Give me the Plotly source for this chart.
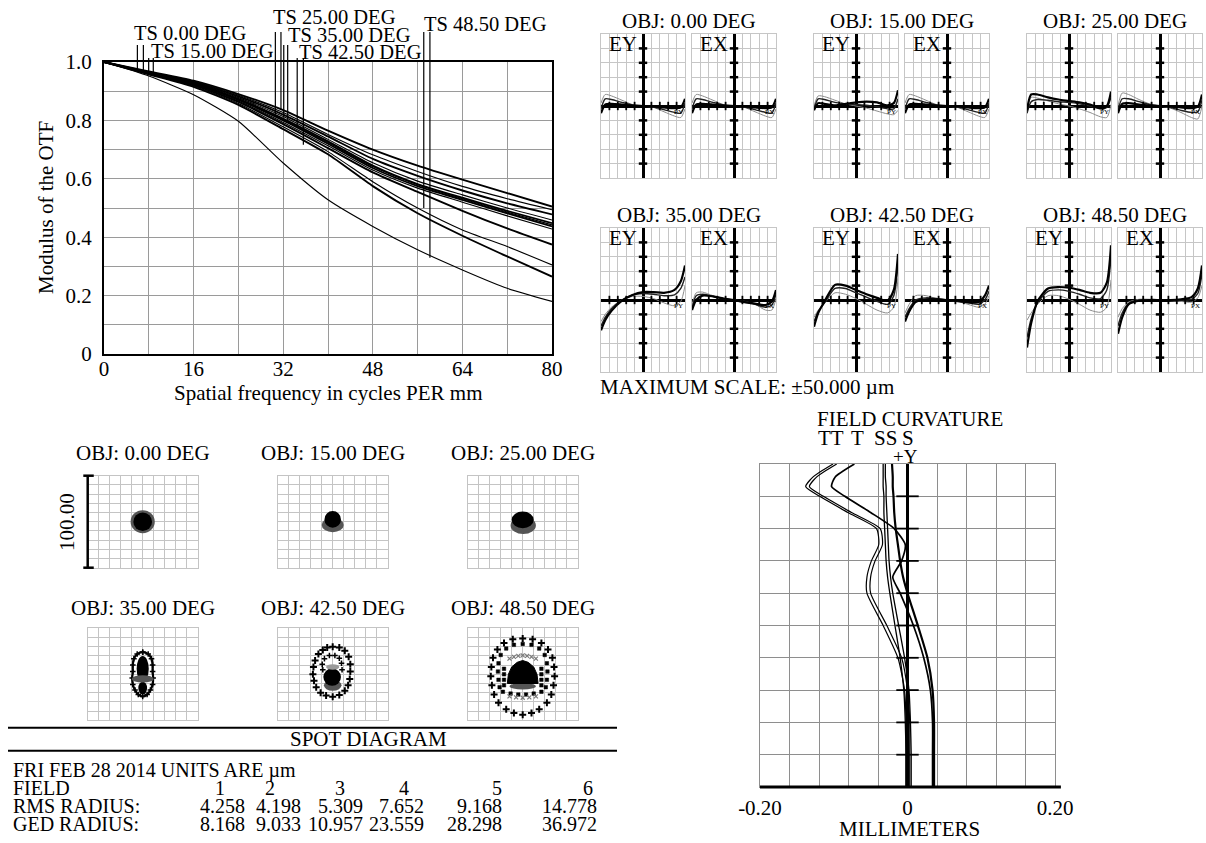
import numpy as np
import plotly.graph_objects as go

W, H = 1206, 843
SERIF = "Liberation Serif"

# ---------------- MTF data ----------------
MTF_FREQ = [0, 8, 16, 24, 32, 40, 48, 56, 64, 72, 80]
MTF_00_T = [1, 0.968, 0.936, 0.890, 0.835, 0.765, 0.700, 0.645, 0.597, 0.551, 0.505]
MTF_00_S = [1, 0.966, 0.933, 0.886, 0.827, 0.752, 0.682, 0.625, 0.574, 0.532, 0.494]
MTF_15_T = [1, 0.965, 0.931, 0.882, 0.820, 0.745, 0.668, 0.610, 0.560, 0.516, 0.478]
MTF_15_S = [1, 0.964, 0.929, 0.878, 0.813, 0.735, 0.655, 0.592, 0.545, 0.500, 0.459]
MTF_25_T = [1, 0.963, 0.927, 0.874, 0.806, 0.728, 0.645, 0.582, 0.535, 0.490, 0.448]
MTF_25_S = [1, 0.962, 0.926, 0.872, 0.803, 0.724, 0.642, 0.580, 0.532, 0.486, 0.442]
MTF_35_T = [1, 0.962, 0.925, 0.870, 0.800, 0.720, 0.637, 0.575, 0.528, 0.482, 0.437]
MTF_35_S = [1, 0.961, 0.923, 0.866, 0.793, 0.713, 0.630, 0.568, 0.520, 0.473, 0.428]
MTF_42_S = [1, 0.960, 0.921, 0.863, 0.787, 0.705, 0.622, 0.555, 0.490, 0.430, 0.375]
MTF_42_T = [1, 0.959, 0.918, 0.858, 0.778, 0.693, 0.590, 0.500, 0.425, 0.368, 0.305]
MTF_48_S = [1, 0.958, 0.915, 0.853, 0.770, 0.684, 0.575, 0.482, 0.405, 0.334, 0.265]
MTF_48_T = [1, 0.952, 0.888, 0.797, 0.654, 0.528, 0.437, 0.357, 0.288, 0.225, 0.180]
MTF_CURVES = [MTF_00_T, MTF_00_S, MTF_15_T, MTF_15_S, MTF_25_T, MTF_25_S,
              MTF_35_T, MTF_35_S, MTF_42_S, MTF_42_T, MTF_48_S, MTF_48_T]

MTF_MARK_LABELS = ["TS 0.00 DEG", "TS 15.00 DEG", "TS 25.00 DEG",
                   "TS 35.00 DEG", "TS 42.50 DEG", "TS 48.50 DEG"]
MTF_MARK_FREQ = [[5.96, 7.03], [7.98, 8.8], [30.6, 31.6],
                 [32.1, 32.8], [34.5, 35.6], [57.1, 58.2]]
MTF_MARK_END = [[0.972, 0.968], [0.962, 0.958], [0.82, 0.837],
                [0.81, 0.80], [0.78, 0.717], [0.50, 0.33]]
MTF_X_TICKS = ["0", "", "16", "", "32", "", "48", "", "64", "", "80"]
MTF_Y_TICKS = ["0", "", "0.2", "", "0.4", "", "0.6", "", "0.8", "", "1.0"]

# ---------------- Ray fan data (µm vs normalized pupil) ----------------
FAN_PUPIL = [-1, -0.9, -0.75, -0.5, -0.25, 0, 0.25, 0.5, 0.75, 0.9, 1]
FAN_TITLES = ["OBJ: 0.00 DEG", "OBJ: 15.00 DEG", "OBJ: 25.00 DEG",
              "OBJ: 35.00 DEG", "OBJ: 42.50 DEG", "OBJ: 48.50 DEG"]
# each fan: [thick, medium, thin] wavelength curves
FAN_00_EY = [[-5, 1, 1.5, 1, 0.3, 0, -0.3, -1, -1.5, -1, 5],
             [-2, 5, 4.5, 2.5, 0.7, 0, -0.7, -2.5, -4.5, -5, 2],
             [2, 8, 7, 4, 1, 0, -1, -4, -7, -8, -2]]
FAN_00_EX = [[-5, 1, 1.5, 1, 0.3, 0, -0.3, -1, -1.5, -1, 5],
             [-2, 5, 4.5, 2.5, 0.7, 0, -0.7, -2.5, -4.5, -5, 2],
             [2, 8, 7, 4, 1, 0, -1, -4, -7, -8, -2]]
FAN_15_EY = [[-3, 2, 1.5, 0.5, 1.5, 2.5, 3, 2.5, 0.5, 2, 11],
             [-2, 5, 4.5, 2.5, 1.5, 1, 0.5, -0.5, -2, -2, 5],
             [0, 7, 6.5, 4, 1.5, 0, -1.5, -3.5, -5.5, -6, -3]]
FAN_15_EX = [[-5, 1, 1.5, 1, 0.3, 0, -0.3, -1, -1.5, -1, 5],
             [-2, 5, 4.5, 2.5, 0.7, 0, -0.7, -2.5, -4.5, -5, 2],
             [2, 8, 7, 4, 1, 0, -1, -4, -7, -8, -2]]
FAN_25_EY = [[-3, 8, 8, 6, 4.5, 3.5, 2.5, 1, -1.5, 0, 10],
             [-5, 3, 4.5, 4, 3, 2.5, 1.5, 0, -2, -1, 6],
             [-2, 6, 5.5, 3.5, 1.5, 0, -2, -4.5, -7.5, -8, 1]]
FAN_25_EX = [[-5, 1.5, 2, 1, 0.3, 0, -0.3, -1, -1.5, -0.5, 8],
             [-3, 5, 5, 3, 1, 0, -1, -3, -4.5, -4, 4],
             [0, 9, 8, 4.5, 1.5, 0, -1.5, -4.5, -8, -9, 0]]
FAN_35_EY = [[-21, -14, -7.5, -0.5, 3.5, 5.5, 5.5, 5, 7, 13, 24],
             [-18, -12, -6, 0, 3.5, 4.5, 4, 3, 3.5, 8, 16],
             [-15, -10, -5, 0, 2.5, 2.5, 1, -2, -4, -1, 10]]
FAN_35_EX = [[-7, 0, 3, 2.5, 1, 0, -1.5, -2.5, -3.5, -1, 7],
             [-6, 3, 4, 2.5, 1, 0, -1, -3, -5, -3.5, 4],
             [-4, 5, 5.5, 3, 1, 0, -1, -3, -7, -7, 1]]
FAN_42_EY = [[-18.5, -9, -1, 10.5, 10, 7, 4, 1.5, -0.5, 7, 32],
             [-15, -8, -2, 8, 8, 5, 2, -1, -3, 3, 25],
             [-12, -7, -2, 5, 4, 1, -3, -7, -9, -5, 15]]
FAN_42_EX = [[-15, -8, -1.5, 0.5, 0.5, 0, -0.5, -1.5, -1.5, 3, 10],
             [-12, -6, 0, 1.5, 1, 0, -1, -2, -3, 0, 6],
             [-9, -3, 3, 3, 1, 0, -1, -3, -5, -3, 3]]
FAN_48_EY = [[-33, -16, -1, 8, 9, 8.5, 7, 5, 5, 12, 38],
             [-26, -13, -2, 6, 7, 6, 4, 1.5, 1, 7, 30],
             [-14, -9, -3, 3, 3, 0.5, -3, -7, -8.5, -5, 14]]
FAN_48_EX = [[-23.5, -12, -3, -0.5, 0, 0, 0, 0.5, 2, 8, 24],
             [-18, -9, -2.5, 0, 0, 0, 0, 0, 0.5, 4.5, 18],
             [-12, -6, -1.5, 0.5, 0.5, 0, -0.5, -1, -1.5, 1.5, 10]]
FANS = [(FAN_00_EY, FAN_00_EX), (FAN_15_EY, FAN_15_EX), (FAN_25_EY, FAN_25_EX),
        (FAN_35_EY, FAN_35_EX), (FAN_42_EY, FAN_42_EX), (FAN_48_EY, FAN_48_EX)]
FAN_Y_TICKS = [-40, -30, -20, -10, 10, 20, 30, 40]
FAN_X_TICKS = [-0.8, -0.6, -0.4, -0.2, 0.2, 0.4, 0.6, 0.8]

# ---------------- Spot diagram data (µm) ----------------
# blobs: (cx, cy, rx, ry, wavelength index)
SPOT_00_BLOBS = [(0, 0, 11, 12.5, 1), (0, 0, 8.5, 10, 0)]
SPOT_15_BLOBS = [(0, -3.5, 10, 8, 1), (0, 2.5, 7.5, 9, 0)]
SPOT_25_BLOBS = [(0.5, -4, 11.5, 9.5, 1), (0, 2, 10, 9, 0)]
SPOT_35_BLOBS = [(0, 6, 5.5, 14, 0), (0, -15, 4, 7, 0), (0, -5, 10, 4, 1)]
SPOT_42_BLOBS = [(0, -12, 8, 6, 1), (-0.5, -3, 8, 9.5, 0), (0, 8, 6, 3, 2)]
SPOT_48_BLOBS = [(0, -13, 12, 3.5, 1)]
SPOT_35_RING = [(0, 24), (5, 22), (8, 17), (9, 10), (9, 3), (9.5, -4), (9, -11), (7, -17),
                (4, -22), (0, -24), (-4, -22), (-7, -17), (-9, -11), (-9.5, -4), (-9, 3),
                (-9, 10), (-8, 17), (-5, 22)]
SPOT_42_RING = [(0, 30), (6, 29), (11, 25.5), (14.5, 19), (16, 11), (16, 3), (15.5, -5),
                (14, -12), (11, -18), (6, -22.5), (0, -24.5), (-6, -23), (-11, -20),
                (-15, -14), (-17, -7), (-18, 0), (-17.5, 8), (-16, 15), (-13, 22),
                (-9, 26.5), (-5, 29)]
SPOT_42_INNER = [(-9, 5), (-9.5, 11), (-7.5, 17), (-3, 20.5), (2, 20.5), (6, 17.5),
                 (8, 12), (8.5, 5)]
SPOT_48_RING = [(0, 39), (9, 38), (17, 34), (23, 27), (27, 18), (28.5, 8), (29, -2),
                (28, -12), (26, -22), (22, -31), (15, -38), (8, -42), (0, -44), (-8, -42),
                (-15, -38), (-22, -31), (-26, -22), (-28, -12), (-29, -2), (-28.5, 8),
                (-27, 18), (-23, 27), (-17, 34), (-9, 38)]
SPOT_48_INNER = [(0, 33), (8, 32), (15, 28), (20, 21), (22, 12), (22.5, 3), (22, -6),
                 (21, -14), (17, -19), (10, -21), (3, -22), (-4, -22), (-11, -21),
                 (-18, -19), (-21, -14), (-22, -6), (-22.5, 3), (-22, 12), (-20, 21),
                 (-15, 28), (-8, 32), (-17, 6), (-17, 0), (-17, -6), (-17, -12),
                 (17, 6), (17, 0), (17, -6), (17, -12)]
SPOT_48_XMARKS = [(-12, 17), (-8, 19), (-4, 20), (0, 20.5), (4, 20), (8, 19), (12, 17),
                  (-12, -24), (-6, -25), (0, -25.5), (6, -25), (12, -24)]
SPOT_48_DOME = [(-14, -10), (-13, 0), (-10, 8), (-5, 13), (0, 15), (5, 13), (10, 8),
                (13, 0), (14, -10)]
SPOT_TITLES = ["OBJ: 0.00 DEG", "OBJ: 15.00 DEG", "OBJ: 25.00 DEG",
               "OBJ: 35.00 DEG", "OBJ: 42.50 DEG", "OBJ: 48.50 DEG"]

TABLE_FIELDS = ["1", "2", "3", "4", "5", "6"]
TABLE_RMS = [4.258, 4.198, 5.309, 7.652, 9.168, 14.778]
TABLE_GED = [8.168, 9.033, 10.957, 23.559, 28.298, 36.972]

# ---------------- Field curvature data (mm vs relative field) ----------------
FC_FIELD = [0, 0.1, 0.2, 0.3, 0.4, 0.5, 0.6, 0.65, 0.7, 0.75, 0.8, 0.85, 0.9, 0.93, 0.96, 1.0]
FC_T1 = [-0.002, -0.002, -0.002, -0.004, -0.013, -0.033, -0.055, -0.055, -0.049, -0.039,
         -0.042, -0.081, -0.119, -0.138, -0.128, -0.101]
FC_T2 = [0.003, 0.003, 0.003, 0.000, -0.008, -0.028, -0.050, -0.050, -0.044, -0.034,
         -0.037, -0.076, -0.114, -0.133, -0.123, -0.096]
FC_T3 = [0.034, 0.034, 0.034, 0.031, 0.022, 0.008, -0.010, -0.020, -0.008, -0.003,
         -0.018, -0.050, -0.085, -0.103, -0.098, -0.072]
FC_S1 = [-0.002, -0.002, -0.003, -0.005, -0.010, -0.017, -0.024, -0.027, -0.029, -0.030,
         -0.031, -0.032, -0.032, -0.033, -0.033, -0.033]
FC_S2 = [0.005, 0.005, 0.004, 0.002, -0.004, -0.012, -0.020, -0.023, -0.025, -0.026,
         -0.027, -0.028, -0.029, -0.029, -0.030, -0.030]
FC_S3 = [0.036, 0.036, 0.036, 0.034, 0.027, 0.014, 0.000, -0.006, -0.010, -0.013,
         -0.016, -0.018, -0.019, -0.020, -0.020, -0.021]
FC_TICKS = [0.1, 0.2, 0.3, 0.4, 0.5, 0.6, 0.7, 0.8, 0.9]
FC_X_TICKS = ["-0.20", "", "", "", "", "0", "", "", "", "", "0.20"]

# =====================================================================
layout = dict(width=W, height=H, margin=dict(l=0, r=0, t=0, b=0, autoexpand=False),
              paper_bgcolor="white", plot_bgcolor="white", showlegend=False,
              font=dict(family=SERIF, color="black", size=21))
traces, shapes, annotations = [], [], []
axis_n = [0]


def new_axes(left, right, top, bottom, xcfg, ycfg):
    axis_n[0] += 1
    n = axis_n[0]
    sx = "" if n == 1 else str(n)
    layout["xaxis" + sx] = dict(domain=[left / W, right / W], anchor="y" + sx, **xcfg)
    layout["yaxis" + sx] = dict(domain=[1 - bottom / H, 1 - top / H], anchor="x" + sx, **ycfg)
    return "x" + sx, "y" + sx


def label(px, py, text, size=21, xanchor="center", angle=0):
    annotations.append(dict(x=px / W, y=1 - py / H, xref="paper", yref="paper", text=text,
                            showarrow=False, xanchor=xanchor, yanchor="middle",
                            textangle=angle, borderpad=0,
                            font=dict(family=SERIF, size=size, color="black")))


def grid_axis(lo, hi, step, gridcolor, **extra):
    vals = [round(v, 6) for v in np.arange(lo, hi + step / 2, step)]
    d = dict(range=[lo, hi], tickvals=vals, showticklabels=False, ticks="",
             showgrid=True, gridcolor=gridcolor, gridwidth=1, zeroline=False,
             showline=True, linecolor=gridcolor, linewidth=1, mirror=True, fixedrange=True,
             automargin=False)
    d.update(extra)
    return d


# ---------------- MTF ----------------
mx, my = new_axes(104, 552, 62, 354,
                  grid_axis(0, 80, 8, "#9a9a9a", linecolor="black", linewidth=2,
                            showticklabels=True, ticktext=MTF_X_TICKS,
                            tickfont=dict(size=21), ticklabelstandoff=-5),
                  grid_axis(0, 1, 0.1, "#9a9a9a", linecolor="black", linewidth=2,
                            showticklabels=True, ticktext=MTF_Y_TICKS,
                            tickfont=dict(size=21), ticklabelstandoff=6))
for i, curve in enumerate(MTF_CURVES):
    traces.append(go.Scatter(x=MTF_FREQ, y=curve, mode="lines", xaxis=mx, yaxis=my,
                             line=dict(color="black", width=1.9 if i % 2 == 0 else 1.1,
                                       shape="spline", smoothing=0.6), hoverinfo="skip"))
mark_tops = [45, 58, 32, 45, 58, 32]
mark_text_pos = [(133, 33), (150, 51), (272, 17.5), (287, 35), (298, 52), (423, 24)]
for lab, freqs, ends, top, (tx, ty) in zip(MTF_MARK_LABELS, MTF_MARK_FREQ, MTF_MARK_END,
                                            mark_tops, mark_text_pos):
    for f, e in zip(freqs, ends):
        shapes.append(dict(type="line", xref=mx, yref=my + " domain", x0=f, x1=f,
                           y0=e, y1=(354 - top) / 292, line=dict(color="black", width=1.2)))
    label(tx, ty, lab, size=20.5, xanchor="left")
label(46, 208, "Modulus of the OTF", angle=-90)
label(328, 393, "Spatial frequency in cycles PER mm")

# ---------------- Ray fans ----------------
fan_cols = [601, 814, 1027]
fan_rows = [34, 228]
fan_title_y = [21, 215]
fan_styles = [("#8c8c8c", 1.0), ("#222222", 1.4), ("black", 2.2)]
for k, (ey, ex) in enumerate(FANS):
    r, c = divmod(k, 3)
    L, T = fan_cols[c], fan_rows[r]
    label(L + 87.5, fan_title_y[r], FAN_TITLES[k])
    for j, (fan, tag, pl) in enumerate([(ey, "EY", "PY"), (ex, "EX", "PX")]):
        left = L + 91 * j
        fx, fy = new_axes(left, left + 84, T, T + 144,
                          grid_axis(-1, 1, 0.2, "#c6c6c6", zeroline=True,
                                    zerolinecolor="black", zerolinewidth=3),
                          grid_axis(-50, 50, 10, "#c6c6c6", zeroline=True,
                                    zerolinecolor="black", zerolinewidth=2.5))
        for curve, (col, w) in zip(fan[::-1], fan_styles):
            traces.append(go.Scatter(x=FAN_PUPIL, y=curve, mode="lines", xaxis=fx, yaxis=fy,
                                     line=dict(color=col, width=w, shape="spline",
                                               smoothing=0.7), hoverinfo="skip"))
        traces.append(go.Scatter(x=[0] * len(FAN_Y_TICKS), y=FAN_Y_TICKS, mode="markers",
                                 xaxis=fx, yaxis=fy, hoverinfo="skip",
                                 marker=dict(symbol="line-ew", size=6,
                                             line=dict(color="black", width=2.5))))
        traces.append(go.Scatter(x=FAN_X_TICKS, y=[0] * len(FAN_X_TICKS), mode="markers",
                                 xaxis=fx, yaxis=fy, hoverinfo="skip",
                                 marker=dict(symbol="line-ns", size=6,
                                             line=dict(color="black", width=1.8))))
        label(left + 83, T + 72 + 6, pl, size=7, xanchor="right")
        if not (r == 0 and c == 2):
            label(left + 22, T + 10, tag)
label(599, 387, "MAXIMUM SCALE: ±50.000 µm", xanchor="left")

# ---------------- Spot diagrams ----------------
WAVE_COLORS = ["black", "#555555", "#9a9a9a"]
spot_cols = [87.7, 277.7, 467.7]
spot_rows = [475.7, 628.3]
spot_title_y = [453, 608]
spot_blobs = [SPOT_00_BLOBS, SPOT_15_BLOBS, SPOT_25_BLOBS,
              SPOT_35_BLOBS, SPOT_42_BLOBS, SPOT_48_BLOBS]
spot_axes = []
for k in range(6):
    r, c = divmod(k, 3)
    L, T = spot_cols[c], spot_rows[r]
    sx, sy = new_axes(L, L + 110, T, T + 92,
                      grid_axis(-50, 50, 10, "#c4c4c4"), grid_axis(-50, 50, 10, "#c4c4c4"))
    spot_axes.append((sx, sy))
    label(L + 55, spot_title_y[r], SPOT_TITLES[k])
    for (cx, cy, rx, ry, wv) in spot_blobs[k]:
        shapes.append(dict(type="circle", xref=sx, yref=sy, x0=cx - rx, x1=cx + rx,
                           y0=cy - ry, y1=cy + ry, fillcolor=WAVE_COLORS[wv],
                           line=dict(width=0), layer="above"))


def ring_trace(points, ax, symbol, size, color="black", lines=False, lw=1.0):
    xs = [p[0] for p in points]
    ys = [p[1] for p in points]
    if lines:
        xs, ys = xs + xs[:1], ys + ys[:1]
    return go.Scatter(x=xs, y=ys, mode="lines+markers" if lines else "markers",
                      xaxis=ax[0], yaxis=ax[1], hoverinfo="skip",
                      line=dict(color=color, width=2.2, shape="spline"),
                      marker=dict(symbol=symbol, size=size, color=color,
                                  line=dict(color=color, width=lw)))


traces.append(ring_trace(SPOT_35_RING, spot_axes[3], "cross-thin", 4, lines=True, lw=1.5))
traces.append(ring_trace(SPOT_42_RING, spot_axes[4], "cross-thin", 5, lw=2))
traces.append(ring_trace(SPOT_42_INNER, spot_axes[4], "cross-thin", 4, lw=1.5))
traces.append(ring_trace(SPOT_48_RING, spot_axes[5], "cross-thin", 5, lw=2))
traces.append(ring_trace(SPOT_48_INNER, spot_axes[5], "square", 3.5, lw=0.5))
traces.append(ring_trace(SPOT_48_XMARKS, spot_axes[5], "x-thin", 4, color="#7a7a7a", lw=1.2))
dome = "M " + " L ".join(f"{x},{y}" for x, y in SPOT_48_DOME) + " Z"
shapes.append(dict(type="path", xref=spot_axes[5][0], yref=spot_axes[5][1], path=dome,
                   fillcolor="black", line=dict(color="black", width=1), layer="above"))
# scale bar on first spot box
sbx, sby = spot_axes[0][0] + " domain", spot_axes[0][1] + " domain"
shapes.append(dict(type="line", xref=sbx, yref=sby, x0=0, x1=0, y0=0, y1=1,
                   line=dict(color="black", width=2.5)))
for yy in (0, 1):
    shapes.append(dict(type="line", xref=sbx, yref=sby, x0=-0.04, x1=0.055, y0=yy, y1=yy,
                       line=dict(color="black", width=2.5)))
label(67, 522, "100.00", angle=-90)

# section rules + table
for yy in (727.7, 750.7):
    shapes.append(dict(type="line", xref="paper", yref="paper", x0=8 / W, x1=617 / W,
                       y0=1 - yy / H, y1=1 - yy / H, line=dict(color="black", width=2)))
label(368, 739, "SPOT DIAGRAM", size=21)
tx0 = 12
TS = 20
label(tx0, 770, "FRI FEB 28 2014 UNITS ARE µm", size=TS, xanchor="left")
label(tx0, 787.5, "FIELD", size=TS, xanchor="left")
label(tx0, 805.5, "RMS RADIUS:", size=TS, xanchor="left")
label(tx0, 823.5, "GED RADIUS:", size=TS, xanchor="left")
field_right = [226, 276, 346, 410, 503, 594]
num_right = [246, 302, 364, 425, 503, 598]
for i in range(6):
    label(field_right[i], 787.5, TABLE_FIELDS[i], size=TS, xanchor="right")
    label(num_right[i], 805.5, f"{TABLE_RMS[i]:.3f}", size=TS, xanchor="right")
    label(num_right[i], 823.5, f"{TABLE_GED[i]:.3f}", size=TS, xanchor="right")

# ---------------- Field curvature ----------------
cx_, cy_ = new_axes(760, 1055, 464, 787,
                    grid_axis(-0.2, 0.2, 0.04, "#8e8e8e", zeroline=True, zerolinecolor="black",
                              zerolinewidth=2.5, showticklabels=True, ticktext=FC_X_TICKS,
                              tickfont=dict(size=21), ticklabelstandoff=2),
                    grid_axis(0, 1, 0.1, "#8e8e8e"))
for curve, w in [(FC_S1, 1.3), (FC_S2, 1.3), (FC_S3, 2.2), (FC_T1, 1.2), (FC_T2, 1.2),
                 (FC_T3, 1.7)]:
    traces.append(go.Scatter(x=curve, y=FC_FIELD, mode="lines", xaxis=cx_, yaxis=cy_,
                             hoverinfo="skip",
                             line=dict(color="black", width=w, shape="spline", smoothing=0.6)))
traces.append(go.Scatter(x=[0] * len(FC_TICKS), y=FC_TICKS, mode="markers", xaxis=cx_,
                         yaxis=cy_, hoverinfo="skip",
                         marker=dict(symbol="line-ew", size=16,
                                     line=dict(color="black", width=1.8))))
shapes.append(dict(type="line", xref=cx_ + " domain", yref=cy_ + " domain", x0=0, x1=1.02,
                   y0=0, y1=0, line=dict(color="black", width=3)))
label(909.5, 419, "FIELD CURVATURE")
label(831, 438, "TT")
label(857, 438, "T")
label(885, 438, "SS")
label(908, 438, "S")
label(905, 456, "+Y", size=19)
label(909, 829, "MILLIMETERS")

layout["shapes"] = shapes
layout["annotations"] = annotations
fig = go.Figure(data=traces, layout=layout)
fig.write_html("out.html")
